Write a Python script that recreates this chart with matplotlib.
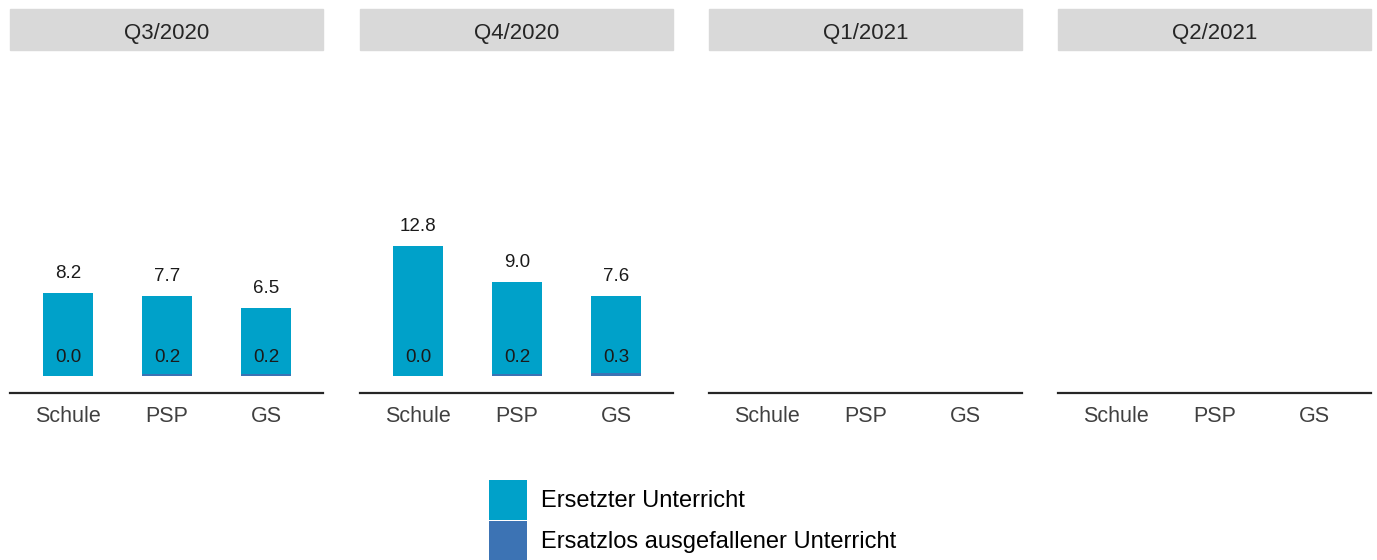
import matplotlib
matplotlib.use("Agg")
import matplotlib.pyplot as plt
from matplotlib.patches import Rectangle

plt.rcParams['font.family'] = ['Liberation Sans', 'DejaVu Sans']

quarters = ["Q3/2020", "Q4/2020", "Q1/2021", "Q2/2021"]
categories = ["Schule", "PSP", "GS"]

# Ersetzter Unterricht (top segment) and ersatzlos ausgefallener Unterricht (bottom)
ersetzt_q3 = [8.2, 7.7, 6.5]
ausgefallen_q3 = [0.0, 0.2, 0.2]
ersetzt_q4 = [12.8, 9.0, 7.6]
ausgefallen_q4 = [0.0, 0.2, 0.3]

ersetzt = [ersetzt_q3, ersetzt_q4, None, None]
ausgefallen = [ausgefallen_q3, ausgefallen_q4, None, None]

c_ersetzt = "#00A1C9"
c_ausgef = "#3C73B4"
c_header = "#D9D9D9"

W, H = 1377, 560
fig = plt.figure(figsize=(W / 100, H / 100), dpi=100)

panel_left = [10, 360, 709, 1058]
panel_w = 313
ax_top, ax_bot = 50, 393
head_top = 9

handles = None
for i, q in enumerate(quarters):
    x0 = panel_left[i] / W
    ax = fig.add_axes([x0, 1 - ax_bot / H, panel_w / W, (ax_bot - ax_top) / H])
    xs = range(len(categories))
    if ersetzt[i] is not None:
        b1 = ax.bar(xs, ausgefallen[i], width=0.5, color=c_ausgef)
        b2 = ax.bar(xs, ersetzt[i], width=0.5, bottom=ausgefallen[i], color=c_ersetzt)
        if handles is None:
            handles = [b2, b1]
        for x, e, a in zip(xs, ersetzt[i], ausgefallen[i]):
            ax.annotate(f"{e:.1f}", (x, e + a), xytext=(0, 10.8), textcoords="offset points",
                        ha="center", va="baseline", fontsize=13.5, color="#1a1a1a")
            ax.annotate(f"{a:.1f}", (x, 0), xytext=(0, 10.2), textcoords="offset points",
                        ha="center", va="baseline", fontsize=13.5, color="#1a1a1a")
    ax.set_xlim(-0.585, 2.575)
    ax.set_ylim(-1.67, 32.05)
    ax.set_xticks(list(xs))
    ax.set_xticklabels(categories, fontsize=15.5, color="#404040")
    ax.tick_params(axis="x", length=0, pad=9.5)
    ax.set_yticks([])
    for s in ["left", "right", "top"]:
        ax.spines[s].set_visible(False)
    ax.spines["bottom"].set_color("#262626")
    ax.spines["bottom"].set_linewidth(1.6)
    ax.patch.set_alpha(0)

    # header strip
    fig.patches.append(Rectangle((x0, 1 - ax_top / H), panel_w / W, (ax_top - head_top) / H,
                                 transform=fig.transFigure, color=c_header, zorder=0))
    fig.text(x0 + panel_w / W / 2, 1 - 33 / H, q,
             ha="center", va="center", fontsize=16, color="#262626")

fig.legend(handles, ["Ersetzter Unterricht", "Ersatzlos ausgefallener Unterricht"],
           loc="upper left", bbox_to_anchor=(489 / W, 1 - 480 / H), frameon=False,
           fontsize=17, handlelength=1.61, handleheight=2.23, labelspacing=0.04,
           handletextpad=0.6, borderpad=0, borderaxespad=0)

fig.savefig("out.png", dpi=100)
